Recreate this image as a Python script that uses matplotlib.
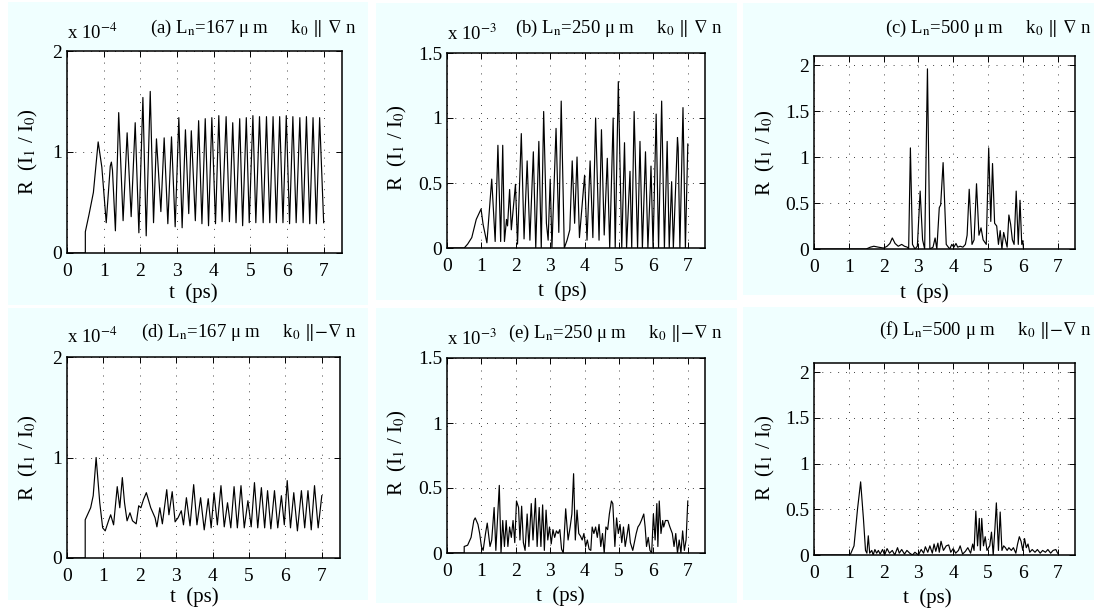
import numpy as np
import matplotlib
matplotlib.use('Agg')
import matplotlib.pyplot as plt
from matplotlib.patches import Rectangle

W, H = 1094, 610

# (a) L_n = 167 um, k0 || grad n   (unidades de 1e-4)
t_a = [0.0, 0.5, 0.5, 0.6, 0.72, 0.85, 0.95, 1.07, 1.18, 1.21,
       1.24, 1.32, 1.41, 1.53, 1.64, 1.75, 1.86, 1.96, 2.07, 2.16,
       2.27, 2.36, 2.44, 2.47, 2.56, 2.65, 2.75, 2.85, 2.95, 3.05,
       3.14, 3.23, 3.32, 3.39, 3.5, 3.59, 3.68, 3.77, 3.86, 3.95,
       4.05, 4.14, 4.23, 4.34, 4.43, 4.52, 4.61, 4.71, 4.79, 4.89,
       4.97, 5.07, 5.15, 5.25, 5.35, 5.44, 5.53, 5.62, 5.71, 5.8,
       5.89, 5.98, 6.07, 6.16, 6.25, 6.35, 6.44, 6.53, 6.62, 6.71,
       6.8, 6.89, 7.0]
r_a = [0.0, 0.0, 0.21, 0.38, 0.6, 1.1, 0.85, 0.3, 0.86, 0.9,
       0.82, 0.22, 1.39, 0.32, 1.19, 0.36, 1.29, 0.2, 1.54, 0.17,
       1.6, 0.3, 1.13, 0.95, 0.41, 1.14, 0.29, 1.15, 0.26, 1.34,
       0.25, 1.22, 0.39, 1.21, 0.32, 1.31, 0.29, 1.33, 0.27, 1.34,
       0.29, 1.36, 0.31, 1.35, 0.31, 1.29, 0.3, 1.33, 0.27, 1.34,
       0.3, 1.36, 0.3, 1.35, 0.3, 1.35, 0.3, 1.35, 0.3, 1.35,
       0.3, 1.36, 0.29, 1.35, 0.3, 1.34, 0.3, 1.35, 0.29, 1.34,
       0.29, 1.34, 0.3]

# (b) L_n = 250 um, k0 || grad n   (unidades de 1e-3)
t_b = [0.0, 0.5, 0.6, 0.72, 0.85, 0.92, 0.99, 1.05, 1.16, 1.3,
       1.4, 1.48, 1.56, 1.62, 1.67, 1.73, 1.76, 1.82, 1.87, 1.99,
       2.05, 2.16, 2.24, 2.33, 2.41, 2.51, 2.58, 2.67, 2.74, 2.81,
       2.89, 2.94, 3.0, 3.05, 3.17, 3.25, 3.32, 3.41, 3.49, 3.57,
       3.64, 3.71, 3.78, 3.85, 4.0, 4.07, 4.16, 4.24, 4.32, 4.42,
       4.49, 4.57, 4.66, 4.73, 4.83, 4.89, 4.98, 5.08, 5.16, 5.22,
       5.28, 5.32, 5.37, 5.44, 5.54, 5.61, 5.68, 5.77, 5.84, 5.91,
       5.93, 5.99, 6.08, 6.15, 6.24, 6.32, 6.4, 6.46, 6.53, 6.58,
       6.7, 6.72, 6.77, 6.86, 6.93, 7.0]
r_b = [0.0, 0.0, 0.03, 0.08, 0.22, 0.26, 0.3, 0.18, 0.04, 0.53,
       0.05, 0.79, 0.05, 0.79, 0.05, 0.22, 0.17, 0.45, 0.14, 0.49,
       0.03, 0.88, 0.07, 0.67, 0.06, 0.74, 0.0, 0.82, 0.0, 1.05,
       0.19, 0.06, 0.53, 0.0, 0.92, 0.12, 1.13, 0.0, 0.06, 0.14,
       0.67, 0.19, 0.7, 0.08, 0.56, 0.06, 0.67, 0.08, 1.0, 0.06,
       0.91, 0.1, 0.69, 0.0, 1.0, 0.0, 1.28, 0.0, 0.81, 0.0,
       0.36, 0.59, 0.0, 1.05, 0.0, 0.82, 0.0, 0.74, 0.0, 0.47,
       0.63, 0.0, 1.03, 0.0, 1.13, 0.0, 0.82, 0.0, 0.51, 0.0,
       0.85, 0.77, 0.0, 1.08, 0.0, 0.8]

# (c) L_n = 500 um, k0 || grad n
t_c = [0.0, 1.5, 1.62, 1.72, 1.85, 2.0, 2.1, 2.18, 2.25, 2.33,
       2.42, 2.52, 2.6, 2.68, 2.72, 2.77, 2.83, 2.9, 2.97, 3.05,
       3.12, 3.18, 3.26, 3.33, 3.42, 3.48, 3.53, 3.6, 3.64, 3.71,
       3.8, 3.9, 3.96, 4.02, 4.08, 4.13, 4.2, 4.28, 4.35, 4.4,
       4.46, 4.54, 4.6, 4.67, 4.74, 4.8, 4.86, 4.95, 5.02, 5.08,
       5.13, 5.19, 5.25, 5.3, 5.35, 5.4, 5.45, 5.5, 5.55, 5.6,
       5.65, 5.7, 5.75, 5.81, 5.87, 5.92, 5.97, 6.0, 6.02]
r_c = [0.0, 0.0, 0.02, 0.03, 0.02, 0.01, 0.03, 0.06, 0.12, 0.06,
       0.03, 0.05, 0.03, 0.02, 0.0, 1.1, 0.05, 0.0, 0.03, 0.63,
       0.1, 0.0, 1.96, 0.0, 0.02, 0.12, 0.0, 0.45, 0.48, 0.94,
       0.05, 0.0, 0.05, 0.02, 0.06, 0.02, 0.03, 0.02, 0.05, 0.15,
       0.65, 0.05, 0.1, 0.71, 0.15, 0.23, 0.1, 0.05, 1.1, 0.3,
       0.93, 0.28, 0.25, 0.05, 0.2, 0.0, 0.18, 0.1, 0.02, 0.37,
       0.27, 0.1, 0.05, 0.63, 0.05, 0.53, 0.05, 0.09, 0.0]

# (d) L_n = 167 um, k0 || -grad n   (unidades de 1e-4)
t_d = [0.0, 0.5, 0.5, 0.55, 0.65, 0.72, 0.8, 0.9, 0.98, 1.05,
       1.15, 1.2, 1.28, 1.38, 1.45, 1.52, 1.58, 1.65, 1.73, 1.8,
       1.9, 1.97, 2.03, 2.1, 2.18, 2.3, 2.42, 2.47, 2.55, 2.62,
       2.74, 2.8, 2.89, 2.97, 3.05, 3.14, 3.2, 3.28, 3.38, 3.48,
       3.57, 3.67, 3.77, 3.88, 3.96, 4.04, 4.13, 4.23, 4.32, 4.41,
       4.5, 4.59, 4.68, 4.78, 4.87, 4.97, 5.06, 5.15, 5.24, 5.34,
       5.43, 5.51, 5.6, 5.7, 5.79, 5.89, 5.97, 6.05, 6.14, 6.23,
       6.33, 6.44, 6.53, 6.62, 6.71, 6.8, 6.9, 7.0]
r_d = [0.0, 0.0, 0.38, 0.42, 0.5, 0.62, 1.0, 0.55, 0.3, 0.27,
       0.38, 0.43, 0.33, 0.71, 0.5, 0.8, 0.55, 0.37, 0.45, 0.37,
       0.34, 0.52, 0.5, 0.58, 0.65, 0.5, 0.4, 0.31, 0.5, 0.34,
       0.68, 0.43, 0.66, 0.36, 0.4, 0.47, 0.33, 0.6, 0.32, 0.73,
       0.33, 0.6, 0.28, 0.59, 0.3, 0.65, 0.33, 0.72, 0.31, 0.55,
       0.3, 0.71, 0.3, 0.72, 0.3, 0.57, 0.31, 0.75, 0.3, 0.7,
       0.3, 0.67, 0.29, 0.67, 0.3, 0.62, 0.33, 0.77, 0.3, 0.65,
       0.27, 0.67, 0.3, 0.67, 0.28, 0.72, 0.3, 0.62]

# (e) L_n = 250 um, k0 || -grad n   (unidades de 1e-3)
t_e = [0.0, 0.5, 0.5, 0.6, 0.7, 0.78, 0.82, 0.9, 0.95, 1.0,
       1.05, 1.12, 1.17, 1.25, 1.3, 1.37, 1.42, 1.48, 1.52, 1.57,
       1.62, 1.67, 1.72, 1.77, 1.82, 1.87, 1.92, 1.97, 2.02, 2.08,
       2.12, 2.17, 2.22, 2.27, 2.33, 2.38, 2.45, 2.5, 2.57, 2.62,
       2.68, 2.73, 2.78, 2.83, 2.88, 2.93, 2.98, 3.03, 3.08, 3.13,
       3.18, 3.23, 3.28, 3.33, 3.38, 3.45, 3.52, 3.58, 3.63, 3.68,
       3.73, 3.78, 3.83, 3.88, 3.93, 3.98, 4.03, 4.08, 4.13, 4.18,
       4.22, 4.27, 4.32, 4.37, 4.42, 4.47, 4.52, 4.57, 4.62, 4.67,
       4.72, 4.78, 4.82, 4.88, 4.93, 4.98, 5.03, 5.08, 5.13, 5.18,
       5.23, 5.28, 5.33, 5.4, 5.5, 5.55, 5.6, 5.65, 5.72, 5.76,
       5.8, 5.85, 5.9, 5.95, 6.0, 6.05, 6.1, 6.13, 6.17, 6.22,
       6.27, 6.3, 6.35, 6.42, 6.48, 6.55, 6.6, 6.65, 6.7, 6.75,
       6.8, 6.85, 6.9, 6.95, 7.0]
r_e = [0.0, 0.0, 0.05, 0.06, 0.12, 0.25, 0.27, 0.22, 0.15, 0.05,
       0.02, 0.15, 0.23, 0.05, 0.1, 0.35, 0.02, 0.32, 0.52, 0.0,
       0.25, 0.05, 0.25, 0.05, 0.2, 0.12, 0.25, 0.08, 0.4, 0.35,
       0.1, 0.36, 0.08, 0.02, 0.3, 0.05, 0.38, 0.1, 0.42, 0.05,
       0.35, 0.05, 0.37, 0.02, 0.33, 0.1, 0.2, 0.07, 0.18, 0.12,
       0.17, 0.15, 0.18, 0.03, 0.0, 0.34, 0.1, 0.2, 0.3, 0.61,
       0.1, 0.33, 0.15, 0.13, 0.1, 0.15, 0.05, 0.1, 0.03, 0.02,
       0.2, 0.15, 0.2, 0.12, 0.22, 0.05, 0.15, 0.0, 0.2, 0.18,
       0.3, 0.4, 0.38, 0.05, 0.27, 0.15, 0.22, 0.08, 0.2, 0.05,
       0.13, 0.22, 0.08, 0.02, 0.15, 0.2, 0.22, 0.25, 0.3, 0.2,
       0.05, 0.12, 0.02, 0.0, 0.3, 0.1, 0.38, 0.05, 0.4, 0.15,
       0.25, 0.2, 0.25, 0.25, 0.2, 0.15, 0.05, 0.15, 0.0, 0.1,
       0.0, 0.17, 0.02, 0.1, 0.4]

# (f) L_n = 500 um, k0 || -grad n
t_f = [0.0, 1.0, 1.05, 1.15, 1.25, 1.34, 1.42, 1.48, 1.52, 1.56,
       1.6, 1.66, 1.7, 1.75, 1.8, 1.85, 1.9, 1.97, 2.03, 2.1,
       2.17, 2.25, 2.32, 2.4, 2.45, 2.52, 2.6, 2.67, 2.75, 2.83,
       2.9, 3.0, 3.08, 3.15, 3.2, 3.27, 3.33, 3.4, 3.45, 3.5,
       3.56, 3.6, 3.65, 3.72, 3.8, 3.87, 3.93, 4.0, 4.07, 4.15,
       4.2, 4.27, 4.35, 4.42, 4.5, 4.56, 4.6, 4.65, 4.7, 4.75,
       4.78, 4.82, 4.87, 4.92, 4.97, 5.05, 5.1, 5.15, 5.2, 5.24,
       5.3, 5.35, 5.4, 5.45, 5.5, 5.55, 5.6, 5.67, 5.73, 5.8,
       5.85, 5.9, 5.95, 6.0, 6.05, 6.1, 6.15, 6.2, 6.27, 6.35,
       6.42, 6.5, 6.57, 6.65, 6.72, 6.8, 6.87, 6.95, 7.0]
r_f = [0.0, 0.0, 0.01, 0.1, 0.5, 0.8, 0.4, 0.05, 0.02, 0.21,
       0.02, 0.05, 0.0, 0.06, 0.02, 0.05, 0.01, 0.06, 0.0, 0.07,
       0.02, 0.05, 0.0, 0.08, 0.02, 0.06, 0.01, 0.05, 0.02, 0.0,
       0.03, 0.0, 0.06, 0.02, 0.09, 0.03, 0.1, 0.02, 0.12, 0.04,
       0.13, 0.03, 0.15, 0.05, 0.1, 0.11, 0.03, 0.07, 0.02, 0.05,
       0.1, 0.01, 0.04, 0.08, 0.02, 0.12, 0.05, 0.48, 0.1, 0.4,
       0.05, 0.4, 0.1, 0.2, 0.05, 0.1, 0.25, 0.0, 0.3, 0.57,
       0.05, 0.47, 0.05, 0.1, 0.08, 0.05, 0.08, 0.05, 0.08, 0.02,
       0.12, 0.2, 0.15, 0.05, 0.18, 0.08, 0.12, 0.03, 0.06, 0.03,
       0.06, 0.02, 0.05, 0.03, 0.06, 0.02, 0.05, 0.06, 0.02]

rotulos = ['(a)', '(b)', '(c)', '(d)', '(e)', '(f)']
comprimentos = ['167', '250', '500', '167', '250', '500']
direcoes = [r'$\Vert$ $\nabla$ n'] * 3 + [r'$\Vert$$-$$\nabla$ n'] * 3
expoentes = ['-4', '-3', None, '-4', '-3', None]
y_max = [2, 1.5, 2.1, 2, 1.5, 2.1]
y_ticks = [[0, 1, 2], [0, 0.5, 1, 1.5], [0, 0.5, 1, 1.5, 2],
           [0, 1, 2], [0, 0.5, 1, 1.5], [0, 0.5, 1, 1.5, 2]]
x_ticks = [0, 1, 2, 3, 4, 5, 6, 7]

# layout em pixels (esq, topo, dir, base)
paineis = [(8, 2, 368, 305), (376, 3, 737, 300), (743, 3, 1094, 295),
           (8, 308, 368, 600), (376, 308, 737, 603), (743, 307, 1094, 600)]
eixos = [(67, 51, 342, 253), (447, 53, 705, 248), (814, 56, 1075, 249),
         (67, 357, 340, 558), (447, 358, 705, 553), (814, 363, 1075, 555)]
titulo_pos = [(357, 33), (723, 33), (1092, 33), (357, 337), (723, 338), (1092, 335)]
expoente_pos = [(67, 39), (447, 40), None, (67, 343), (447, 345), None]
ylabel_pos = [(28, 152), (397, 148), (765, 153), (28, 458), (397, 453), (765, 458)]
xlabel_pos = [(193, 293), (562, 291), (924, 293), (194, 597), (560, 596), (927, 598)]

plt.rcParams['font.family'] = ['Liberation Serif', 'DejaVu Serif']
plt.rcParams['mathtext.fontset'] = 'stix'


def fx(x):
    return x / W


def fy(y):
    return 1 - y / H


def desenhar_painel(fig, i, t, r):
    """Desenha um dos seis paineis no estilo do Matlab."""
    l, tp, rr, b = paineis[i]
    fig.patches.append(Rectangle((fx(l), fy(b)), fx(rr - l), (b - tp) / H,
                                 transform=fig.transFigure, facecolor='#f0ffff',
                                 edgecolor='none', zorder=-5))
    l, tp, rr, b = eixos[i]
    ax = fig.add_axes([fx(l), fy(b), fx(rr - l), (b - tp) / H])
    ax.set_facecolor('white')
    ax.plot(t, r, color='black', lw=0.85)
    ax.set_xlim(0, 7.5)
    ax.set_ylim(0, y_max[i])
    ax.set_xticks(x_ticks)
    ax.set_yticks(y_ticks[i])
    ax.set_yticklabels(['%g' % v for v in y_ticks[i]])
    ax.grid(True, color='black', linestyle=(0, (1, 8.5)), lw=0.6)
    ax.tick_params(direction='in', top=True, right=True, length=4,
                   width=0.7, labelsize=14)
    ax.tick_params(axis='x', pad=7)
    ax.tick_params(axis='y', pad=3.5)
    for s in ax.spines.values():
        s.set_linewidth(1.1)

    x, y = titulo_pos[i]
    fig.text(fx(x), fy(y), rotulos[i] + r' L$_\mathrm{n}$=' + comprimentos[i]
             + u' \u03bc m     k$_\mathrm{0}$ ' + direcoes[i],
             ha='right', va='baseline', fontsize=13.5)
    if expoentes[i]:
        x, y = expoente_pos[i]
        fig.text(fx(x), fy(y), r'x 10$^{' + expoentes[i] + '}$',
                 ha='left', va='baseline', fontsize=13.5)
    x, y = ylabel_pos[i]
    fig.text(fx(x), fy(y), r'R  (I$_\mathrm{1}$ / I$_\mathrm{0}$)', rotation=90,
             ha='center', va='center', fontsize=15)
    x, y = xlabel_pos[i]
    fig.text(fx(x), fy(y), 't  (ps)', ha='center', va='center', fontsize=15)
    return ax


def main():
    fig = plt.figure(figsize=(W / 100, H / 100), dpi=100)
    fig.patch.set_facecolor('white')
    dados = [(t_a, r_a), (t_b, r_b), (t_c, r_c), (t_d, r_d), (t_e, r_e), (t_f, r_f)]
    for i, (t, r) in enumerate(dados):
        desenhar_painel(fig, i, t, r)
    fig.savefig('out.png', dpi=100, facecolor='white')


if __name__ == "__main__":
    main()
